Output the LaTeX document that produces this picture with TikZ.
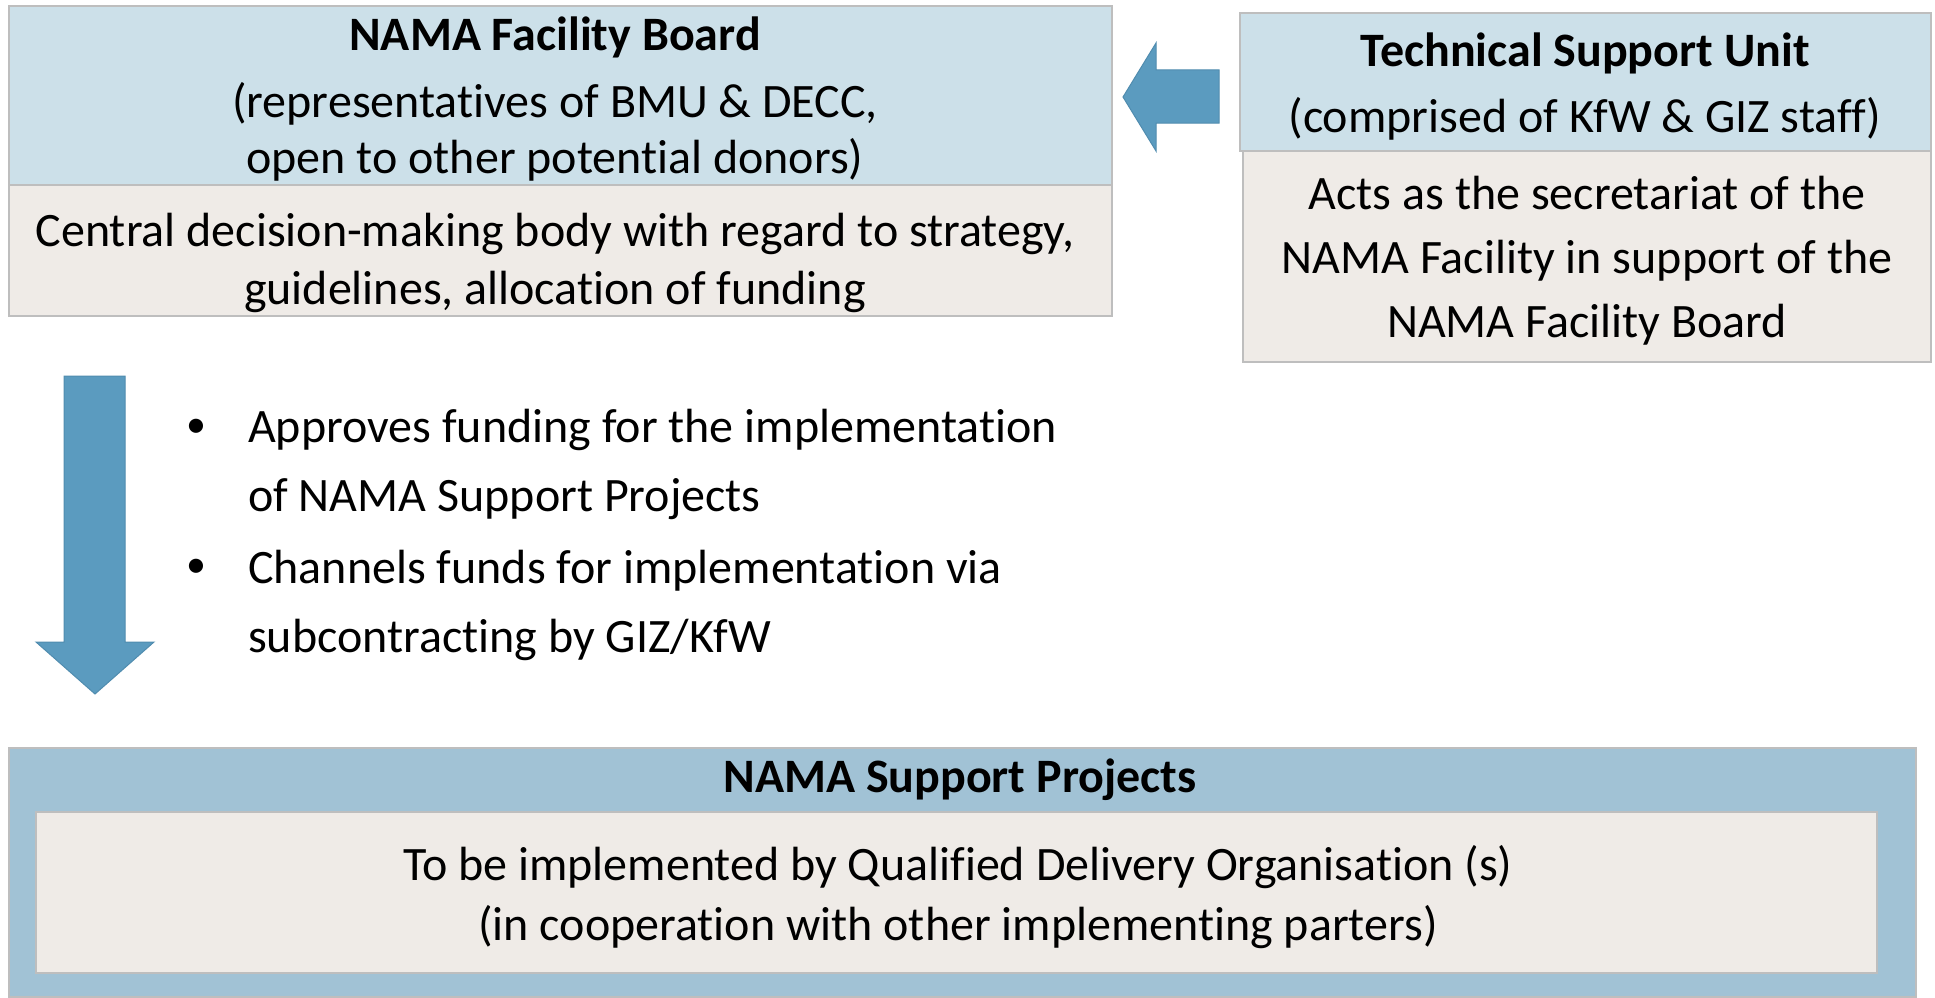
\documentclass[tikz,border=0pt]{standalone}
\usepackage{fontspec}
\setmainfont{Carlito}[Ligatures=NoCommon]
\definecolor{hdrblue}{RGB}{204,224,233}
\definecolor{bodybeige}{RGB}{239,235,231}
\definecolor{outerblue}{RGB}{161,194,213}
\definecolor{arrowblue}{RGB}{91,155,191}
\definecolor{arrowedge}{RGB}{80,140,175}
\definecolor{bordergray}{RGB}{190,190,190}
\begin{document}
\begin{tikzpicture}[x=1pt,y=-1pt]
\tikzset{
  hdr/.style={draw=bordergray, fill=hdrblue, line width=1.5pt, inner sep=0pt, outer sep=0pt},
  bodybox/.style={draw=bordergray, fill=bodybeige, line width=1.5pt, inner sep=0pt, outer sep=0pt},
  outerbox/.style={draw=bordergray, fill=outerblue, line width=1.5pt, inner sep=0pt, outer sep=0pt},
  txt/.style={align=center, inner sep=0pt, font=\fontsize{48}{58}\selectfont},
  btxt/.style={align=center, inner sep=0pt, font=\fontsize{48}{58}\selectfont\bfseries},
  bullet/.style={inner sep=0pt, font=\fontsize{40}{48}\selectfont},
  bigarrow/.style={fill=arrowblue, draw=arrowedge, line width=1pt},
}
\useasboundingbox (0,0) rectangle (1935,998);
\fill[white] (0,0) rectangle (1935,998);

% NAMA Facility Board
\node[hdr, minimum width=1103pt, minimum height=179pt] (fbh) at (560.5,95.5) {};
\node[bodybox, minimum width=1103pt, minimum height=131pt] (fbb) at (560.5,250.5) {};
\node[btxt] (fbt) at (555,37.5) {NAMA Facility Board};
\node[txt, font=\fontsize{48}{56}\selectfont] (fbs) at (555,132) {(representatives of BMU \& DECC,\\open to other potential donors)};
\node[txt] (fbd) at (555,263) {Central decision-making body with regard to strategy,\\guidelines, allocation of funding};

% Technical Support Unit
\node[hdr, minimum width=691pt, minimum height=138pt] (tsh) at (1585.5,82) {};
\node[bodybox, minimum width=688pt, minimum height=211pt] (tsb) at (1587,256.5) {};
\node[btxt] (tst) at (1585,53.5) {Technical Support Unit};
\node[txt] (tss) at (1585,118.5) {(comprised of KfW \& GIZ staff)};
\node[txt, font=\fontsize{48}{64}\selectfont] (tsd) at (1587,260.5) {Acts as the secretariat of the\\NAMA Facility in support of the\\NAMA Facility Board};

% left block arrow (TSU -> Board)
\draw[bigarrow] (1123,97) -- (1156,43) -- (1156,70) -- (1219,70) -- (1219,123) -- (1156,123) -- (1156,151) -- cycle;

% down block arrow
\draw[bigarrow] (64,376) -- (125,376) -- (125,642) -- (154,642) -- (95,694) -- (36,642) -- (64,642) -- cycle;

% bullets
\node[bullet] (b1) at (196,428) {•};
\node[txt, font=\fontsize{48}{69}\selectfont, align=left, anchor=west] (i1) at (248,464) {Approves funding for the implementation\\of NAMA Support Projects};
\node[bullet] (b2) at (196,568) {•};
\node[txt, font=\fontsize{48}{69}\selectfont, align=left, anchor=west] (i2) at (248,605) {Channels funds for implementation via\\subcontracting by GIZ/KfW};

% NAMA Support Projects
\node[outerbox, minimum width=1907pt, minimum height=249pt] (nsp) at (962.5,872.5) {};
\node[bodybox, minimum width=1841pt, minimum height=161pt] (nspi) at (956.5,892.5) {};
\node[btxt] (nspt) at (960,780) {NAMA Support Projects};
\node[txt, font=\fontsize{48}{60}\selectfont] (nspd) at (958,897) {To be implemented by Qualified Delivery Organisation (s)\\(in cooperation with other implementing parters)};
\end{tikzpicture}
\end{document}
